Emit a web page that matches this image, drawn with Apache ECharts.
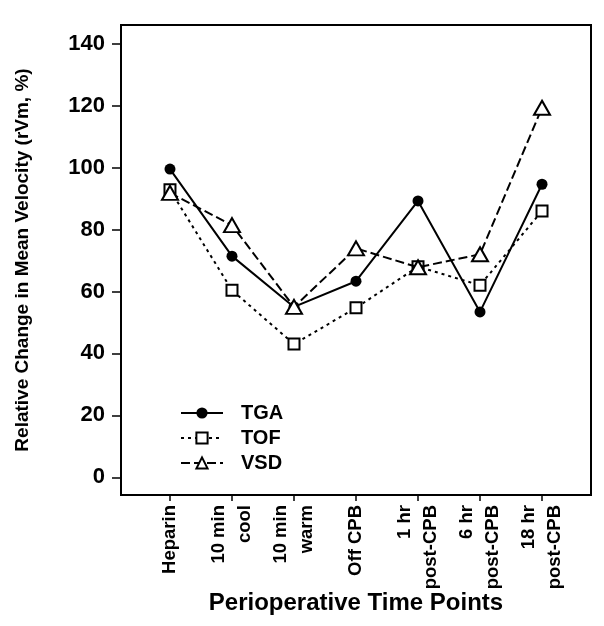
<!DOCTYPE html>
<html>
<head>
<meta charset="utf-8">
<script src="https://cdn.jsdelivr.net/npm/echarts@6/dist/echarts.min.js"></script>
<style>
html,body{margin:0;padding:0;background:#fff;}
#chart{width:604px;height:626px;}
</style>
</head>
<body>
<div id="chart"></div>
<script>
var categories = ['Heparin', '10 min\ncool', '10 min\nwarm', 'Off CPB', '1 hr\npost-CPB', '6 hr\npost-CPB', '18 hr\npost-CPB'];
var tgaValues = [99.5, 71.4, 55.0, 63.3, 89.2, 53.4, 94.6];
var tofValues = [92.8, 60.4, 43.0, 54.7, 68.0, 62.0, 86.0];
var vsdValues = [91.8, 81.4, 55.0, 73.9, 67.8, 72.0, 119.3];
var yTicks = [0, 20, 40, 60, 80, 100, 120, 140];
var xTicks = [0, 1, 2, 3, 4, 5, 6];

function pairs(vals) { return vals.map(function (v, i) { return [i, v]; }); }

var FONT = '"Liberation Sans", Arial, sans-serif';
var chart = echarts.init(document.getElementById('chart'), null, {renderer: 'canvas'});
chart.setOption({
  animation: false,
  backgroundColor: '#fff',
  grid: {left: 121, right: 13, top: 25, bottom: 131, show: true, borderColor: '#000', borderWidth: 2, backgroundColor: 'transparent'},
  xAxis: {
    type: 'value', min: -0.79, max: 6.79,
    splitLine: {show: false},
    axisLine: {show: false, onZero: false},
    axisTick: {show: true, length: 6, lineStyle: {color: '#000', width: 1.5}, customValues: xTicks},
    axisLabel: {
      customValues: xTicks, rotate: 90, margin: 10,
      fontFamily: FONT, fontWeight: 'bold', fontSize: 18.5, color: '#000', lineHeight: 26,
      formatter: function (v) { return categories[Math.round(v)]; }
    },
    name: 'Perioperative Time Points', nameLocation: 'middle', nameGap: 96, nameMoveOverlap: false,
    nameTextStyle: {fontFamily: FONT, fontWeight: 'bold', fontSize: 24, color: '#000'}
  },
  yAxis: {
    type: 'value', min: -5.7, max: 146,
    splitLine: {show: false},
    axisLine: {show: false, onZero: false},
    axisTick: {show: true, length: 9, lineStyle: {color: '#000', width: 1.5}, customValues: yTicks},
    axisLabel: {customValues: yTicks, margin: 16, fontFamily: FONT, fontWeight: 'bold', fontSize: 22, color: '#000'},
    name: 'Relative Change in Mean Velocity (rVm, %)', nameLocation: 'middle', nameGap: 89, nameMoveOverlap: false,
    nameTextStyle: {fontFamily: FONT, fontWeight: 'bold', fontSize: 19, color: '#000'}
  },
  legend: {
    orient: 'vertical', left: 175, top: 398, itemWidth: 42, itemHeight: 14, itemGap: 5,
    textStyle: {fontFamily: FONT, fontWeight: 'bold', fontSize: 20, color: '#000', padding: [0, 0, 0, 13]},
    data: ['TGA', 'TOF', 'VSD']
  },
  series: [
    {name: 'TGA', type: 'line', data: pairs(tgaValues), symbol: 'circle', symbolSize: 11,
     lineStyle: {color: '#000', width: 2, type: 'solid'},
     itemStyle: {color: '#000', borderColor: '#000', borderWidth: 0}, z: 3},
    {name: 'TOF', type: 'line', data: pairs(tofValues), symbol: 'rect', symbolSize: 11,
     lineStyle: {color: '#000', width: 2, type: [3, 4]},
     itemStyle: {color: '#fff', borderColor: '#000', borderWidth: 2}, z: 4},
    {name: 'VSD', type: 'line', data: pairs(vsdValues), symbol: 'triangle', symbolSize: [16, 14],
     lineStyle: {color: '#000', width: 2, type: [9, 4]},
     itemStyle: {color: '#fff', borderColor: '#000', borderWidth: 2}, z: 5}
  ]
});
</script>
</body>
</html>
